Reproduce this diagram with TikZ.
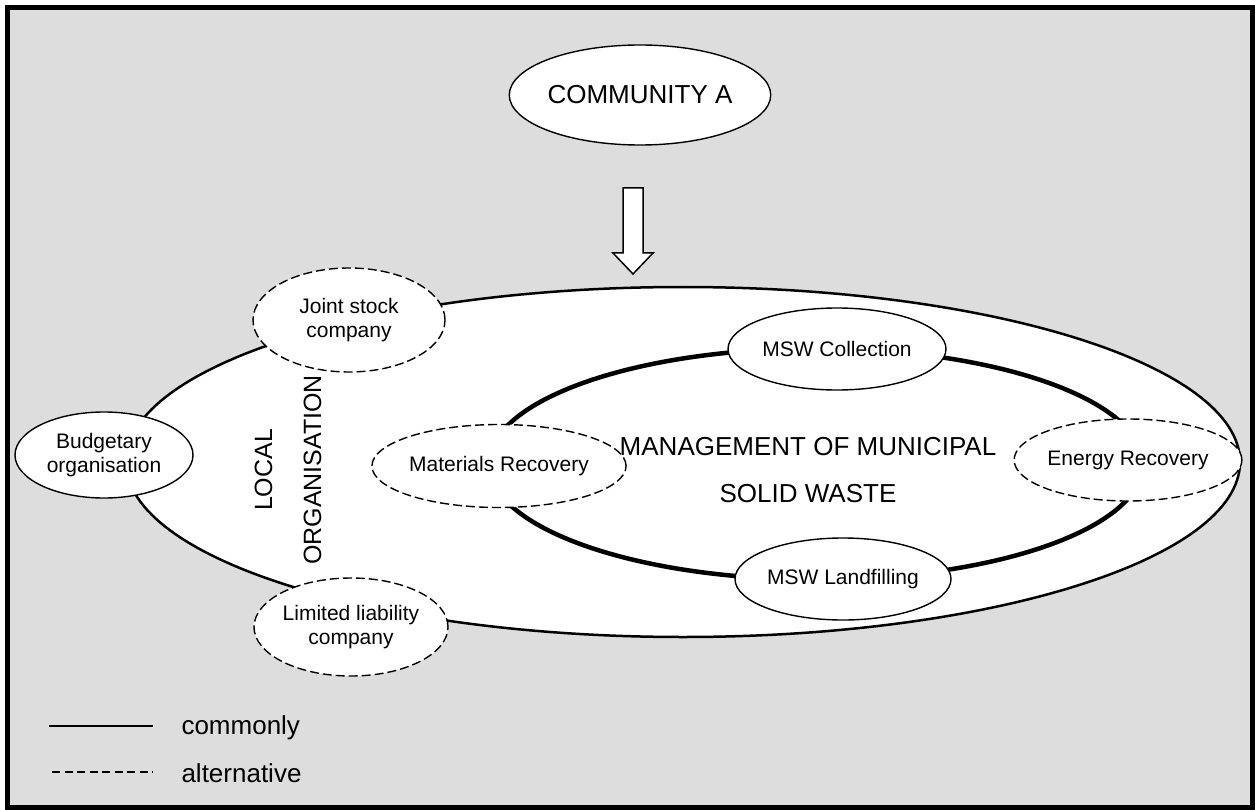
\documentclass[tikz,border=0pt]{standalone}
\usepackage{fontspec}
\setmainfont{Liberation Sans}
\usetikzlibrary{shapes.geometric}
\definecolor{bggray}{HTML}{DDDDDD}
\begin{document}
\begin{tikzpicture}[x=1pt,y=-1pt,
  bubble/.style={ellipse, draw, fill=white, line width=1.4pt, inner sep=0pt, align=center, font=\fontsize{21}{24}\selectfont},
  alt/.style={bubble, dash pattern=on 9pt off 4pt},
  bigtext/.style={align=center, font=\fontsize{26}{47}\selectfont},
  legtext/.style={anchor=west, font=\fontsize{26}{30}\selectfont}]
\useasboundingbox (0,0) rectangle (1255,810);
\draw[line width=5pt, fill=bggray] (7.5,7.5) rectangle (1252.5,807.5);

% community
\node[bubble, font=\fontsize{26}{30}\selectfont, minimum width=256pt, minimum height=100pt] (comm) at (640,95) {COMMUNITY A};

% arrow
\draw[line width=1.5pt, fill=white, line join=miter]
  (623,188) -- (643,188) -- (643,253) -- (653,253) -- (633,274) -- (613,253) -- (623,253) -- cycle;

% local organisation big ellipse
\node[ellipse, draw, fill=white, line width=2.5pt, minimum width=1114pt, minimum height=350pt] (org) at (683,462) {};
% management inner ellipse
\node[ellipse, draw, fill=white, line width=4.5pt, minimum width=654pt, minimum height=231pt] (msw) at (816,464) {};

\node[bigtext] (mgmt) at (808,470) {MANAGEMENT OF MUNICIPAL\\SOLID WASTE};
\node[rotate=90, align=center, font=\fontsize{25}{49}\selectfont] (local) at (288,470) {LOCAL\\ORGANISATION};

% process bubbles
\node[bubble, minimum width=218pt, minimum height=82pt] (coll) at (837,349) {MSW Collection};
\node[bubble, minimum width=216pt, minimum height=82pt] (land) at (843,579) {MSW Landfilling};
\node[alt, minimum width=218pt, minimum height=83pt] (mat) at (499,466) {Materials Recovery};
\node[alt, minimum width=216pt, minimum height=82pt] (ener) at (1128,460) {Energy Recovery};

% organisation forms
\node[alt, minimum width=192pt, minimum height=104pt] (jsc) at (349,320) {Joint stock\\company};
\node[alt, minimum width=194pt, minimum height=98pt] (llc) at (351,627) {Limited liability\\company};
\node[bubble, minimum width=178pt, minimum height=86pt] (bud) at (104,455) {Budgetary\\organisation};

% legend
\coordinate (l1a) at (49,726); \coordinate (l1b) at (153,726);
\coordinate (l2a) at (52,772); \coordinate (l2b) at (153,772);
\draw[line width=1.4pt] (l1a) -- (l1b);
\draw[line width=1.4pt, dash pattern=on 8pt off 4.5pt] (l2a) -- (l2b);
\node[legtext] (lc) at (178,728) {commonly};
\node[legtext] (la) at (178,773) {alternative};
\end{tikzpicture}
\end{document}
